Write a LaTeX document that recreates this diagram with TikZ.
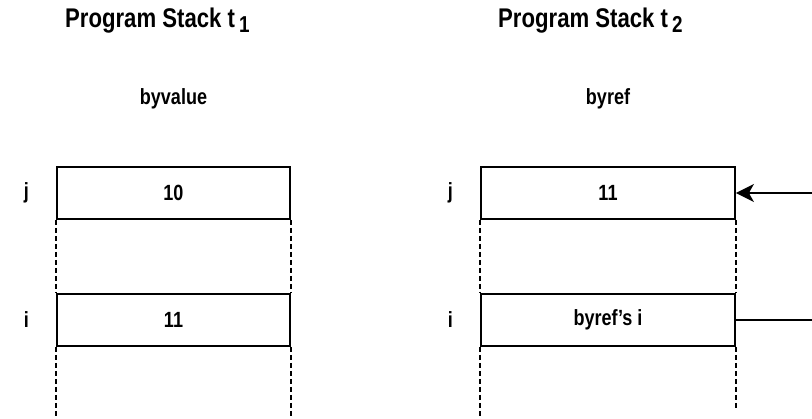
\documentclass[tikz,border=0pt]{standalone}
\usepackage{fontspec}
\setmainfont{Liberation Sans}[FakeStretch=0.82]
\usepackage{tikz}
\usetikzlibrary{arrows.meta,positioning}
\tikzset{
	slot/.style={draw, line width=1.8pt, minimum width=233pt, minimum height=52pt, inner sep=0pt, font=\fontsize{22}{22}\bfseries},
	wide slot/.style={slot, minimum width=254pt},
	varname/.style={inner sep=0pt, font=\fontsize{22}{22}\bfseries},
	gap/.style={line width=1.8pt, dash pattern=on 5pt off 3pt},
	heading/.style={inner sep=0pt, anchor=base west, font=\fontsize{27}{27}\bfseries},
	caption/.style={inner sep=0pt, anchor=base, font=\fontsize{22}{22}\bfseries}
}
\newcommand{\stacktitle}[1]{Program Stack t\kern4pt\raisebox{-5pt}{\fontsize{23}{23}\selectfont #1}}

\begin{document}
\begin{tikzpicture}[x=1pt, y=-1pt]
		%%%%% START %%%%%
		\useasboundingbox (0, 0) rectangle (812, 419);
		
		\node[heading] (titleval) at (65, 28) {\stacktitle{1}};
		\node[heading] (titleref) at (498, 28) {\stacktitle{2}};
		\node[caption] (byvalue) at (173.5, 105) {byvalue};
		\node[caption] (byref) at (608, 105) {byref};
		
		\node[slot] (jval) at (173.5, 193) {10};
		\node[slot] (ival) at (173.5, 320) {11};
		\node[varname, left=27pt of jval] (jvallab) {j};
		\node[varname, left=27pt of ival] (ivallab) {i};
		
		\node[wide slot] (jref) at (608, 193) {11};
		\node[wide slot] (iref) at (608, 320) {byref’s i};
		\node[varname, left=27pt of jref] (jreflab) {j};
		\node[varname, left=27pt of iref] (ireflab) {i};
		
		\draw[gap] (jval.south west) -- (ival.north west);
		\draw[gap] (jval.south east) -- (ival.north east);
		\draw[gap] (ival.south west) -- (ival.south west |- 0, 419);
		\draw[gap] (ival.south east) -- (ival.south east |- 0, 419);
		
		\draw[gap] (jref.south west) -- (iref.north west);
		\draw[gap] (jref.south east) -- (iref.north east);
		\draw[gap] (iref.south west) -- (iref.south west |- 0, 419);
		\draw[gap] (iref.south east) -- (iref.south east |- 0, 410);
		
		\coordinate (refin) at (812, 193);
		\coordinate (refout) at (812, 320);
		\draw[line width=1.8pt, -{Stealth[length=18pt, width=18pt, inset=5pt]}] (refin) -- (jref.east);
		\draw[line width=1.8pt] (iref.east) -- (refout);
		%%%%% END %%%%%
	\end{tikzpicture}
\end{document}
